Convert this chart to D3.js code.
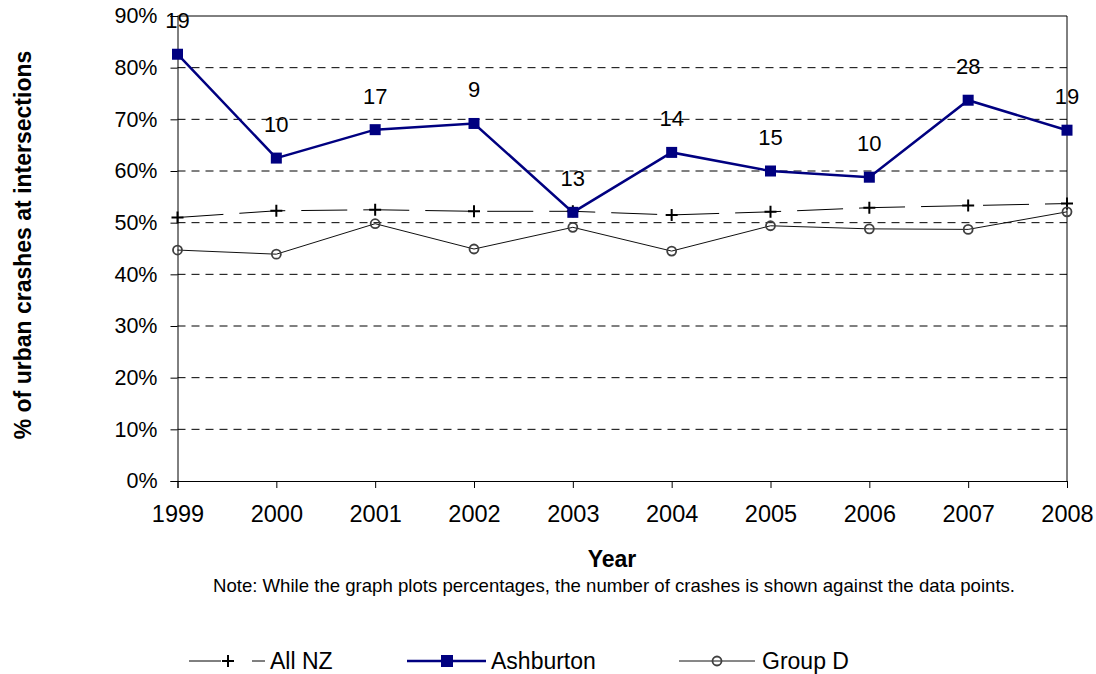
<!DOCTYPE html>
<html><head><meta charset="utf-8">
<script src="https://cdn.jsdelivr.net/npm/d3@7"></script>
<style>
body{margin:0;background:#fff}
svg{display:block}
text{font-family:"Liberation Sans",Arial,Helvetica,sans-serif;fill:#000}
</style>
</head><body>
<svg id="chart" width="1096" height="674"></svg>
<script>
const years = [1999, 2000, 2001, 2002, 2003, 2004, 2005, 2006, 2007, 2008];
const allNZ = [51.0, 52.3, 52.5, 52.2, 52.2, 51.5, 52.1, 52.9, 53.3, 53.7];
const ashburton = [82.6, 62.5, 68.0, 69.2, 52.0, 63.6, 60.0, 58.8, 73.7, 67.9];
const groupD = [44.7, 43.9, 49.8, 44.9, 49.1, 44.5, 49.4, 48.8, 48.7, 52.1];
const crashCounts = [19, 10, 17, 9, 13, 14, 15, 10, 28, 19];
const yTicks = [0, 10, 20, 30, 40, 50, 60, 70, 80, 90];
const seriesNames = ["All NZ", "Ashburton", "Group D"];
const yTitle = "% of urban crashes at intersections";
const xTitle = "Year";
const note = "Note: While the graph plots percentages, the number of crashes is shown against the data points.";

const svg = d3.select("#chart");
const L = 177.5, R = 1067, T = 16, B = 481;
const x = d3.scalePoint().domain(years).range([L, R]).padding(0);
const y = d3.scaleLinear().domain([0, 90]).range([B, T]);

// gridlines
svg.append("g").selectAll("line").data(yTicks.filter(d => d > 0 && d < 90)).join("line")
  .attr("x1", L).attr("x2", R).attr("y1", d => y(d)).attr("y2", d => y(d))
  .attr("stroke", "#000").attr("stroke-width", 1).attr("stroke-dasharray", "8,6");

// plot frame
svg.append("line").attr("x1", L).attr("x2", R).attr("y1", y(90)).attr("y2", y(90)).attr("stroke", "#000").attr("stroke-width", 1);
svg.append("line").attr("x1", R).attr("x2", R).attr("y1", T).attr("y2", B).attr("stroke", "#000").attr("stroke-width", 1);

// axes
const yAxis = svg.append("g").attr("transform", `translate(${L},0)`)
  .call(d3.axisLeft(y).tickValues(yTicks).tickFormat(d => d + "%").tickSize(7).tickPadding(13));
yAxis.select(".domain").attr("stroke", "#000");
yAxis.selectAll("text").attr("font-size", 21.5).attr("font-family", "Liberation Sans, Arial, sans-serif").attr("fill", "#000");

const xAxis = svg.append("g").attr("transform", `translate(0,${B})`)
  .call(d3.axisBottom(x).tickSize(7).tickPadding(17));
xAxis.select(".domain").attr("stroke", "#000");
xAxis.selectAll("text").attr("font-size", 23.5).attr("font-family", "Liberation Sans, Arial, sans-serif").attr("fill", "#000");

// All NZ
const line = vals => d3.line().x((d, i) => x(years[i])).y(d => y(d))(vals);
svg.append("path").attr("d", line(allNZ)).attr("fill", "none").attr("stroke", "#000")
  .attr("stroke-width", 1).attr("stroke-dasharray", "46,16");
svg.append("g").selectAll("path").data(allNZ).join("path")
  .attr("d", "M-6,0H6M0,-6V6")
  .attr("transform", (d, i) => `translate(${x(years[i])},${y(d)})`)
  .attr("stroke", "#000").attr("stroke-width", 2);

// Group D
svg.append("path").attr("d", line(groupD)).attr("fill", "none").attr("stroke", "#111").attr("stroke-width", 1);
svg.append("g").selectAll("circle").data(groupD).join("circle")
  .attr("cx", (d, i) => x(years[i])).attr("cy", d => y(d)).attr("r", 4.5)
  .attr("fill", "none").attr("stroke", "#404040").attr("stroke-width", 1.8);

// Ashburton
svg.append("path").attr("d", line(ashburton)).attr("fill", "none").attr("stroke", "#000080").attr("stroke-width", 2.5);
svg.append("g").selectAll("rect").data(ashburton).join("rect")
  .attr("x", (d, i) => x(years[i]) - 5.5).attr("y", d => y(d) - 5.5)
  .attr("width", 11).attr("height", 11).attr("fill", "#000080");
svg.append("g").selectAll("text").data(ashburton).join("text")
  .attr("x", (d, i) => x(years[i])).attr("y", d => y(d) - 26)
  .attr("text-anchor", "middle").attr("font-size", 22)
  .text((d, i) => crashCounts[i]);

// titles
svg.append("text").attr("transform", "translate(31,245) rotate(-90)")
  .attr("text-anchor", "middle").attr("font-size", 23).attr("font-weight", "bold").text(yTitle);
svg.append("text").attr("x", 612).attr("y", 567).attr("text-anchor", "middle")
  .attr("font-size", 23).attr("font-weight", "bold").text(xTitle);
svg.append("text").attr("x", 614).attr("y", 592).attr("text-anchor", "middle")
  .attr("font-size", 18.6).text(note);

// legend
const ly = 661;
const lg = svg.append("g");
// All NZ
lg.append("line").attr("x1", 189).attr("x2", 221).attr("y1", ly).attr("y2", ly).attr("stroke", "#000").attr("stroke-width", 1);
lg.append("line").attr("x1", 252).attr("x2", 265).attr("y1", ly).attr("y2", ly).attr("stroke", "#000").attr("stroke-width", 1);
lg.append("path").attr("d", "M-6,0H6M0,-6V6").attr("transform", `translate(228,${ly})`).attr("stroke", "#000").attr("stroke-width", 2);
lg.append("text").attr("x", 270).attr("y", 669).attr("font-size", 23).text(seriesNames[0]);
// Ashburton
lg.append("line").attr("x1", 407).attr("x2", 486).attr("y1", ly).attr("y2", ly).attr("stroke", "#000080").attr("stroke-width", 2.5);
lg.append("rect").attr("x", 447 - 6).attr("y", ly - 6).attr("width", 12).attr("height", 12).attr("fill", "#000080");
lg.append("text").attr("x", 491).attr("y", 669).attr("font-size", 23).text(seriesNames[1]);
// Group D
lg.append("line").attr("x1", 679).attr("x2", 755).attr("y1", ly).attr("y2", ly).attr("stroke", "#111").attr("stroke-width", 1);
lg.append("circle").attr("cx", 717).attr("cy", ly).attr("r", 4.5).attr("fill", "none").attr("stroke", "#404040").attr("stroke-width", 1.8);
lg.append("text").attr("x", 762).attr("y", 669).attr("font-size", 23).text(seriesNames[2]);
</script>
</body></html>
